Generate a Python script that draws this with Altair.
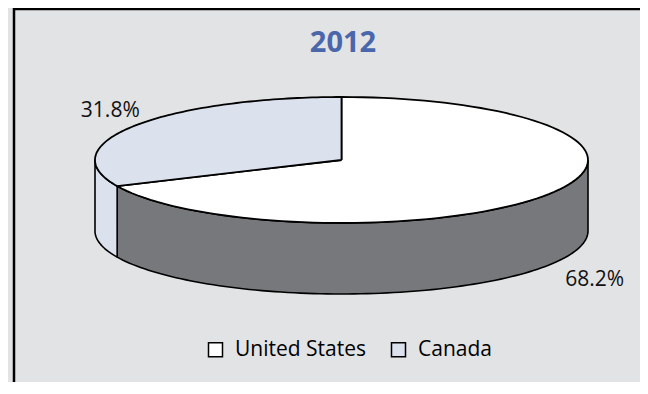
import math
import altair as alt
import pandas as pd

# ---- data ----
TITLE = "2012"
names = ["United States", "Canada"]
values = [68.2, 31.8]
top_colors = ["#ffffff", "#dce1ee"]
side_colors = ["#77787c", "#dce1ee"]

# ---- layout (pixels inside the view) ----
W, H = 632, 374
CX, CY, RX, RY, DEPTH = 333.5, 152, 246.5, 63, 71
LRX, LRY, LDX = 288, 91, 11
FONT = "Open Sans"

total = sum(values)
cum = 0.0
a0, a1 = [], []
for v in values:
    a0.append(cum / total * 2 * math.pi)
    cum += v
    a1.append(cum / total * 2 * math.pi)
df = pd.DataFrame({"name": names, "value": values, "a0": a0, "a1": a1})

base = alt.Chart(df)
X = lambda f: alt.X(f"{f}:Q", scale=None, axis=None)
Y = lambda f: alt.Y(f"{f}:Q", scale=None, axis=None)

# side walls (front half only), drawn as closed polygons
side = base.transform_calculate(
    v0="max(datum.a0, PI/2)", v1="min(datum.a1, 3*PI/2)"
).transform_filter("datum.v0 < datum.v1").transform_calculate(
    k="sequence(0, 203)"
).transform_flatten(["k"]).transform_calculate(
    t="datum.k <= 100 ? datum.v0 + datum.k/100*(datum.v1-datum.v0) : "
      "(datum.k <= 201 ? datum.v1 - (datum.k-101)/100*(datum.v1-datum.v0) : datum.v0)",
    low="datum.k > 100 && datum.k <= 201",
).transform_calculate(
    px=f"{CX} + {RX}*sin(datum.t)",
    py=f"{CY} - {RY}*cos(datum.t) + (datum.low ? {DEPTH} : 0)",
).mark_line(stroke="black", strokeWidth=1.6, strokeJoin="round").encode(
    x=X("px"), y=Y("py"),
    order="k:Q",
    fill=alt.Fill("name:N", scale=alt.Scale(domain=names, range=side_colors), legend=None),
)

# top face slices
top = base.transform_calculate(
    k="sequence(0, 103)"
).transform_flatten(["k"]).transform_calculate(
    t="datum.a0 + (clamp(datum.k, 1, 101) - 1)/100*(datum.a1 - datum.a0)",
    center="datum.k == 0 || datum.k == 102",
).transform_calculate(
    px=f"datum.center ? {CX} : {CX} + {RX}*sin(datum.t)",
    py=f"datum.center ? {CY} : {CY} - {RY}*cos(datum.t)",
).mark_line(stroke="black", strokeWidth=1.8, strokeJoin="round").encode(
    x=X("px"), y=Y("py"),
    order="k:Q",
    fill=alt.Fill(
        "name:N",
        scale=alt.Scale(domain=names, range=top_colors),
        legend=alt.Legend(
            orient="none", legendX=197, legendY=331, direction="horizontal",
            title=None, symbolType="square", symbolSize=196,
            symbolStrokeColor="black", symbolStrokeWidth=1.5,
            labelFont=FONT, labelFontSize=21, labelColor="black",
            labelOffset=9, columnPadding=21, padding=0,
        ),
    ),
)

# percentage labels
labels = base.transform_calculate(
    mid="(datum.a0 + datum.a1)/2"
).transform_calculate(
    lx=f"{CX} + {LDX} + {LRX}*sin(datum.mid)",
    ly=f"{CY} - {LRY}*cos(datum.mid) + (cos(datum.mid) < 0 ? {DEPTH} : 0)",
    txt="format(datum.value, '.1f') + '%'",
).mark_text(font=FONT, fontSize=21, color="#111111", baseline="middle", align="center").encode(
    x=X("lx"), y=Y("ly"), text="txt:N"
)

title = alt.Chart(alt.Data(values=[{"t": TITLE}])).mark_text(
    font=FONT, fontSize=29, fontWeight="bold", color="#4a67ac", baseline="middle", align="center"
).encode(x=alt.value(335), y=alt.value(35), text="t:N")

frame_src = alt.Data(values=[{"a": 1}])
frame_left = alt.Chart(frame_src).mark_rule(color="black", strokeWidth=2.5).encode(
    x=alt.value(6), y=alt.value(0), y2=alt.value(H))
frame_top = alt.Chart(frame_src).mark_rule(color="black", strokeWidth=2.5).encode(
    y=alt.value(1), x=alt.value(6), x2=alt.value(W))

chart = alt.layer(side, top, labels, title, frame_left, frame_top).resolve_scale(
    fill="independent"
).properties(
    width=W, height=H, padding=0, autosize=alt.AutoSizeParams(type="none"),
    background="#e2e3e5",
).configure_view(strokeWidth=0)

chart.save("out.html", embed_options={"renderer": "svg", "actions": False})
